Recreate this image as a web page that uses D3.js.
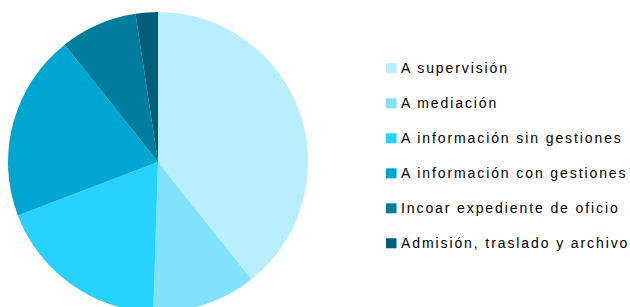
<!DOCTYPE html>
<html>
<head>
<meta charset="utf-8">
<script src="https://cdn.jsdelivr.net/npm/d3@7"></script>
<style>
  body { margin: 0; background: #fff; }
  svg text { font-family: "Liberation Sans", Arial, sans-serif; }
</style>
</head>
<body>
<div id="chart"></div>
<script>
// categories and shares (percent)
const categories = [
  'A supervisión',
  'A mediación',
  'A información sin gestiones',
  'A información con gestiones',
  'Incoar expediente de oficio',
  'Admisión, traslado y archivo'
];
const values = [39.3, 11.2, 18.7, 20.1, 8.3, 2.4];
const colors = ['#b9eefd', '#82e2fd', '#26d2fe', '#00a6d2', '#007d9e', '#005e7a'];

const width = 630, height = 307;
const cx = 158, cy = 162, radius = 150;

const svg = d3.select('#chart')
  .append('svg')
  .attr('width', width)
  .attr('height', height);

const color = d3.scaleOrdinal().domain(categories).range(colors);

const pie = d3.pie().sort(null).value((d, i) => values[i]);
const arc = d3.arc().innerRadius(0).outerRadius(radius);

svg.append('g')
  .attr('transform', 'translate(' + cx + ',' + cy + ')')
  .selectAll('path')
  .data(pie(categories))
  .enter()
  .append('path')
  .attr('d', arc)
  .attr('fill', (d) => color(d.data));

// legend
const legendY = d3.scalePoint().domain(categories).range([68.3, 243.3]);

const legend = svg.selectAll('.legend')
  .data(categories)
  .enter()
  .append('g')
  .attr('class', 'legend')
  .attr('transform', (d) => 'translate(386,' + legendY(d) + ')');

legend.append('rect')
  .attr('y', -5)
  .attr('width', 10.5)
  .attr('height', 10)
  .attr('fill', (d) => color(d));

legend.append('text')
  .attr('x', 15)
  .attr('y', 4.5)
  .style('font-size', '14px')
  .style('letter-spacing', '1.9px')
  .style('fill', '#000')
  .text((d) => d);
</script>
</body>
</html>
